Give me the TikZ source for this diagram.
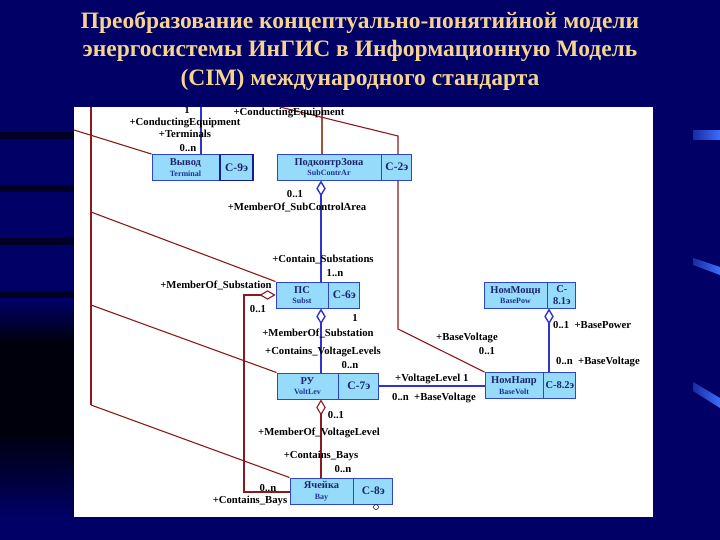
\documentclass[tikz,border=0pt]{standalone}
\usepackage{fontspec}
\setmainfont{Liberation Serif}
\usetikzlibrary{positioning,arrows.meta}
\definecolor{slidebg}{RGB}{0,0,102}
\definecolor{streak}{RGB}{60,110,250}
\definecolor{titlegold}{RGB}{245,212,145}
\definecolor{clsfill}{RGB}{150,220,250}
\definecolor{clsline}{RGB}{45,70,205}
\definecolor{clsdark}{RGB}{20,30,150}
\definecolor{clstext}{RGB}{30,35,110}
\definecolor{assocblue}{RGB}{50,50,205}
\definecolor{assocred}{RGB}{140,25,30}
\definecolor{assocbrown}{RGB}{165,85,55}
\newcommand\clsname[2]{{\bfseries\fontsize{10.5}{11}\selectfont #1}\\[-1.5pt]{\bfseries\fontsize{8}{9}\selectfont\color{clsline!70!black} #2}}
\pgfdeclarelayer{back}
\pgfdeclarelayer{wires}
\pgfsetlayers{back,wires,main}

\begin{document}
\begin{tikzpicture}[x=1pt,y=-1pt,
  cls/.style={draw=clsline,fill=clsfill,line width=0.9pt,minimum height=26,inner sep=0pt,align=center,text=clstext},
  code/.style={cls,font=\bfseries\fontsize{11.5}{12}\selectfont},
  lbl/.style={inner sep=0pt,font=\bfseries\fontsize{10.7}{12}\selectfont},
  blueln/.style={draw=assocblue,line width=1.4pt},
  redln/.style={draw=assocred,line width=1.1pt},
  dia/.style={arrows={Diamond[open,length=16pt,width=9.5pt]-}}]
\useasboundingbox (0,0) rectangle (720,540);
\begin{pgfonlayer}{back}
\fill[slidebg] (0,0) rectangle (720,540);
\shade[top color=slidebg,bottom color=black!88!slidebg] (0,300) rectangle (74,343);
\fill[black!88!slidebg] (0,343) rectangle (74,433);
\shade[top color=black!88!slidebg,bottom color=slidebg] (0,433) rectangle (74,517);
\foreach \y in {132,185,238,291}
  \fill[black!65!slidebg] (0,\y) rectangle (74,\y+7);
\shade[left color=streak!40!slidebg,right color=streak] (693,131) -- (720,131) -- (720,140) -- (693,140) -- cycle;
\shade[left color=streak!40!slidebg,right color=streak] (693,258) -- (720,267) -- (720,275) -- (693,265) -- cycle;
\shade[left color=streak!40!slidebg,right color=streak] (693,382) -- (720,398) -- (720,408) -- (693,391) -- cycle;
\fill[white] (74,107) rectangle (653,517);
\end{pgfonlayer}

\node[align=center,text=titlegold,font=\bfseries\fontsize{23.5}{28.5}\selectfont] (head) at (360,51)
  {Преобразование концептуально-понятийной модели\\энергосистемы ИнГИС в Информационную Модель\\(CIM) международного стандарта};

% classes
\node[cls,minimum width=67] (term) at (185.5,167.5) {\clsname{Вывод}{Terminal}};
\node[code,minimum width=33,right=0pt of term,draw=clsdark,line width=1.3pt] (termc) {C-9э};
\node[cls,minimum width=104] (subca) at (329,167) {\clsname{ПодконтрЗона}{SubContrAr}};
\node[code,minimum width=30,right=0pt of subca] (subcac) {C-2э};
\node[cls,minimum width=52] (subst) at (302,295) {\clsname{ПС}{Subst}};
\node[code,minimum width=31,right=0pt of subst] (substc) {C-6э};
\node[cls,minimum width=61] (vlev) at (307.5,386) {\clsname{РУ}{VoltLev}};
\node[code,minimum width=40,right=0pt of vlev] (vlevc) {C-7э};
\node[cls,minimum width=63] (bay) at (321.5,491) {\clsname{Ячейка}{Bay}};
\node[code,minimum width=39,right=0pt of bay] (bayc) {C-8э};
\node[cls,minimum width=63] (bpow) at (515.5,295) {\clsname{НомМощн}{BasePow}};
\node[code,minimum width=28,right=0pt of bpow,align=center,font=\bfseries\fontsize{10.5}{12}\selectfont] (bpowc) {C-\\8.1э};
\node[cls,minimum width=58] (bvolt) at (514,385.5) {\clsname{НомНапр}{BaseVolt}};
\node[code,minimum width=32,right=0pt of bvolt,font=\bfseries\fontsize{10.5}{12}\selectfont] (bvoltc) {C-8.2э};

\coordinate (tT) at (201,107);
\coordinate (tC) at (322,107);
\coordinate (ax) at (321,300);
\coordinate (bx) at (549,300);
\coordinate (tl) at (74,130);
\coordinate (lt) at (91,107);
\coordinate (l1) at (91,212);
\coordinate (l2) at (91,305);
\coordinate (lb) at (91,405);
\coordinate (rt) at (280,107);
\coordinate (rk) at (398,136);
\coordinate (rb) at (398,329);
\coordinate (lc) at (244,492);

\begin{pgfonlayer}{wires}
\draw[blueln] (tT) -- (tT |- term.north);
\draw[assocbrown,line width=1.1pt] (tC) -- (tC |- subca.north);
\draw[blueln,dia] (ax |- subca.south) -- (ax |- subst.north);
\draw[blueln,dia] (ax |- subst.south) -- (ax |- vlev.north);
\draw[redln,dia] (ax |- vlev.south) -- (ax |- bay.north);
\draw[blueln] (vlevc.east) -- (vlevc.east -| bvolt.west);
\draw[blueln,dia] (bx |- bpow.south) -- (bx |- bvolt.north);
\draw[redln] (tl) -- (term.north west);
\draw[redln] (lt) -- (lb);
\draw[redln] (l1) -- (subst.north west);
\draw[redln] (l2) -- (vlev.north west);
\draw[redln] (lb) -- (bay.north west);
\draw[redln] (rt) -- (rk) -- (rb) -- (bvolt.north west);
\draw[redln,dia] (subst.west) -| (lc) -- (lc -| bay.west);
\end{pgfonlayer}
\draw[black,fill=white,line width=0.5pt] (376,507) circle (2.5);

% roles and multiplicities
\node[lbl] (m1) at (187,110) {1};
\node[lbl] (r1) at (185,123) {+ConductingEquipment};
\node[lbl] (r2) at (185,134) {+Terminals};
\node[lbl] (m2) at (188,148) {0..n};
\node[lbl] (r3) at (289,113) {+ConductingEquipment};
\node[lbl] (m3) at (295,194) {0..1};
\node[lbl] (r4) at (297,207) {+MemberOf\_SubControlArea};
\node[lbl] (r5) at (323,260) {+Contain\_Substations};
\node[lbl] (m4) at (335,273) {1..n};
\node[lbl] (r6) at (216,285) {+MemberOf\_Substation};
\node[lbl] (m5) at (258,309) {0..1};
\node[lbl] (m6) at (355,318) {1};
\node[lbl] (r7) at (318,333) {+MemberOf\_Substation};
\node[lbl] (r8) at (323,352) {+Contains\_VoltageLevels};
\node[lbl] (m7) at (350,365) {0..n};
\node[lbl] (r9) at (467,338) {+BaseVoltage};
\node[lbl] (m8) at (487,351) {0..1};
\node[lbl,anchor=west] (r10) at (553,325) {0..1\ \ +BasePower};
\node[lbl,anchor=west] (r11) at (556,362) {0..n\ \ +BaseVoltage};
\node[lbl,anchor=west] (r12) at (395,379) {+VoltageLevel 1};
\node[lbl,anchor=west] (r13) at (392,398) {0..n\ \ +BaseVoltage};
\node[lbl] (m9) at (336,415) {0..1};
\node[lbl] (r14) at (319,433) {+MemberOf\_VoltageLevel};
\node[lbl] (r15) at (321,456) {+Contains\_Bays};
\node[lbl] (m10) at (343,469) {0..n};
\node[lbl] (m11) at (268,488) {0..n};
\node[lbl] (r16) at (250,501) {+Contains\_Bays};
\end{tikzpicture}
\end{document}
